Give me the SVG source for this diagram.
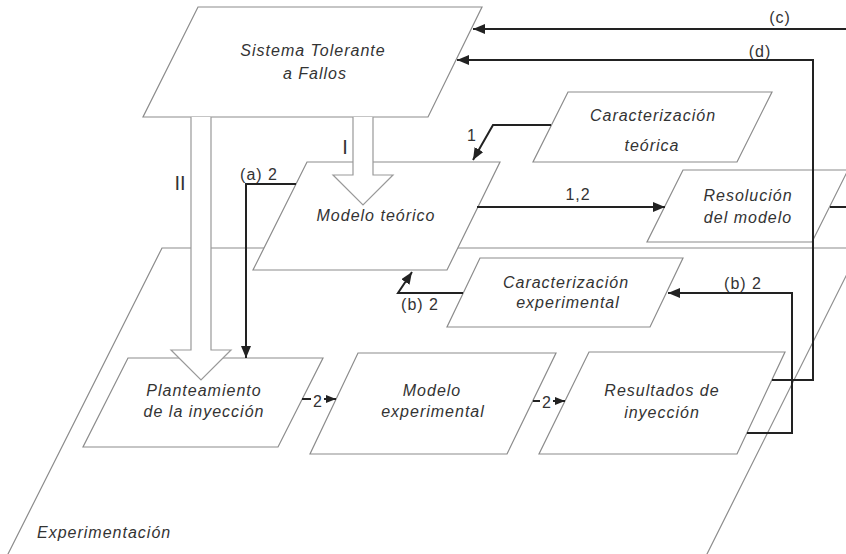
<svg xmlns="http://www.w3.org/2000/svg" width="846" height="554" viewBox="0 0 846 554">
  <defs>
    <marker id="head" markerWidth="12" markerHeight="10" refX="12" refY="5" orient="auto" markerUnits="userSpaceOnUse">
      <path d="M0,0 L12,5 L0,10 z" fill="#222"/>
    </marker>
    <marker id="head-sm" markerWidth="10" markerHeight="8" refX="10" refY="4" orient="auto" markerUnits="userSpaceOnUse">
      <path d="M0,0 L10,4 L0,8 z" fill="#222"/>
    </marker>
  </defs>
  <style>
    .plane { fill: none; stroke: #8c8c8c; stroke-width: 1.2; }
    .box { fill: #fff; stroke: #8c8c8c; stroke-width: 1.2; }
    .hollow { fill: #fff; stroke: #999; stroke-width: 1.2; }
    .txt { font-family: "Liberation Sans", Arial, sans-serif; font-size: 16px; font-style: italic; letter-spacing: 1px; fill: #333; text-anchor: middle; }
    .lbl { font-family: "Liberation Sans", Arial, sans-serif; font-size: 16px; letter-spacing: 1px; fill: #333; text-anchor: middle; }
    .roman { font-family: "Liberation Sans", Arial, sans-serif; font-size: 20px; fill: #333; text-anchor: middle; }
    .conn { fill: none; stroke: #222; stroke-width: 2; }
  </style>
  <rect width="846" height="554" fill="#fff"/>

  <!-- Experimentation plane -->
  <g id="plane-experimentacion">
    <polygon class="plane" points="162,248 860,248 705,558 6,558"/>
    <text class="txt" x="37" y="538" style="text-anchor:start">Experimentación</text>
  </g>

  <!-- Nodes -->
  <g id="sistema">
    <polygon class="box" points="198,7 482,7 428,117 143,117"/>
    <text class="txt" x="313" y="56">Sistema Tolerante</text>
    <text class="txt" x="315" y="79">a Fallos</text>
  </g>

  <g id="modelo-teorico">
    <polygon class="box" points="307,162 500,162 447,270 253,270"/>
    <text class="txt" x="376" y="221">Modelo teórico</text>
  </g>

  <g id="caracterizacion-teorica">
    <polygon class="box" points="568,92 772,92 737,162 533,162"/>
    <text class="txt" x="653" y="121">Caracterización</text>
    <text class="txt" x="652" y="151">teórica</text>
  </g>

  <g id="resolucion">
    <polygon class="box" points="683,170 848,170 812,242 647,242"/>
    <text class="txt" x="748" y="201">Resolución</text>
    <text class="txt" x="748" y="223">del modelo</text>
  </g>

  <g id="caracterizacion-experimental">
    <polygon class="box" points="480,258 683,258 650,327 447,327"/>
    <text class="txt" x="566" y="288">Caracterización</text>
    <text class="txt" x="568" y="308">experimental</text>
  </g>

  <g id="planteamiento">
    <polygon class="box" points="128,358 323,358 278,447 83,447"/>
    <text class="txt" x="204" y="396">Planteamiento</text>
    <text class="txt" x="204" y="417">de la inyección</text>
  </g>

  <g id="modelo-experimental">
    <polygon class="box" points="358,353 556,353 507,454 310,454"/>
    <text class="txt" x="432" y="396">Modelo</text>
    <text class="txt" x="433" y="417">experimental</text>
  </g>

  <g id="resultados">
    <polygon class="box" points="589,352 785,352 737,454 539,454"/>
    <text class="txt" x="662" y="396">Resultados de</text>
    <text class="txt" x="662" y="418">inyección</text>
  </g>

  <!-- Connectors -->
  <g id="connectors">
    <path class="conn" d="M846,29 H473" marker-end="url(#head)"/>
    <path class="conn" d="M772,380 H813 V60 H457" marker-end="url(#head)"/>
    <path class="conn" d="M747,433 H792 V293 H668" marker-end="url(#head)"/>
    <path class="conn" d="M463,293 H398 L412,272" marker-end="url(#head)"/>
    <path class="conn" d="M551,125 H493 L473,160" marker-end="url(#head)"/>
    <path class="conn" d="M296,184 H246 V358" marker-end="url(#head)"/>
    <path class="conn" d="M477,207 H665" marker-end="url(#head)"/>
    <path class="conn" d="M830,207 H846"/>
    <path class="conn" d="M302,399 H311"/>
    <path class="conn" d="M324,399 H336" marker-end="url(#head-sm)"/>
    <path class="conn" d="M533,401 H540"/>
    <path class="conn" d="M553,401 H565" marker-end="url(#head-sm)"/>

    <!-- Hollow block arrows I and II -->
    <path class="hollow" d="M353,117 V175 H333 L363,205 L393,175 H373 V117"/>
    <path class="hollow" d="M191,117 V350 H171 L201,380 L231,350 H211 V117"/>
  </g>

  <!-- Connector labels -->
  <g id="labels">
    <text class="lbl" x="780" y="23">(c)</text>
    <text class="lbl" x="760" y="57">(d)</text>
    <text class="lbl" x="472" y="141">1</text>
    <text class="lbl" x="259" y="180">(a) 2</text>
    <text class="lbl" x="578" y="200">1,2</text>
    <text class="lbl" x="743" y="289">(b) 2</text>
    <text class="lbl" x="420" y="310">(b) 2</text>
    <text class="lbl" x="318" y="407">2</text>
    <text class="lbl" x="547" y="408">2</text>
    <text class="roman" x="345" y="154">I</text>
    <text class="roman" x="180" y="190">II</text>
  </g>
</svg>
